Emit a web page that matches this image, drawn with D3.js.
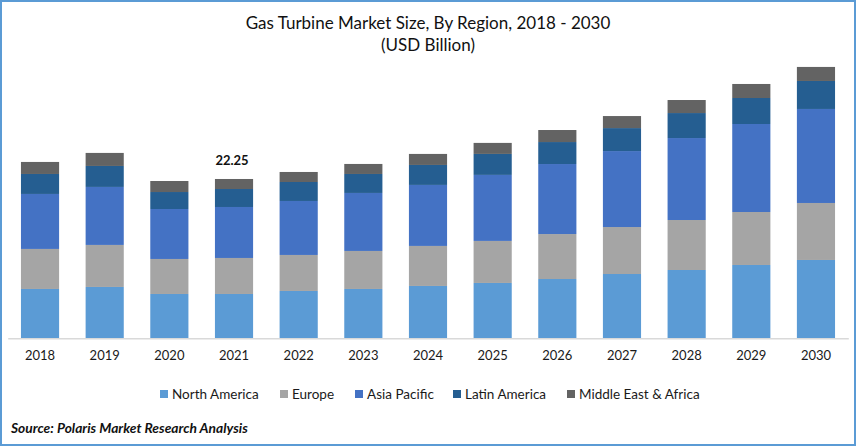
<!DOCTYPE html>
<html>
<head>
<meta charset="utf-8">
<script src="https://cdn.jsdelivr.net/npm/d3@7"></script>
<style>
html, body { margin: 0; padding: 0; background: #fff; }
svg { display: block; font-family: Lato, sans-serif; }
</style>
</head>
<body>
<div id="chart"></div>
<script>
// values, USD billion
var years = ["2018","2019","2020","2021","2022","2023","2024","2025","2026","2027","2028","2029","2030"];
var regions = ["North America","Europe","Asia Pacific","Latin America","Middle East & Africa"];
var regionColors = ["#5b9bd5","#a5a5a5","#4472c4","#255e91","#636363"];

var northAmerica = [6.89,7.17,6.19,6.19,6.61,6.89,7.31,7.73,8.28,8.98,9.54,10.24,10.94];
var europe = [5.59,5.87,4.89,5.03,5.03,5.31,5.59,5.87,6.28,6.56,6.98,7.40,7.96];
var asiaPacific = [7.68,8.10,6.98,7.12,7.54,8.10,8.52,9.22,9.78,10.61,11.45,12.29,13.13];
var latinAmerica = [2.79,2.93,2.37,2.51,2.65,2.65,2.79,2.93,3.07,3.21,3.49,3.63,3.91];
var middleEast = [1.68,1.82,1.54,1.40,1.40,1.40,1.54,1.54,1.68,1.68,1.82,1.96,1.96];

var labelYear = "2021";
var labelText = "22.25";

var width = 856, height = 446;
var rows = years.map(function(y, i) {
  return {
    year: y,
    "North America": northAmerica[i],
    "Europe": europe[i],
    "Asia Pacific": asiaPacific[i],
    "Latin America": latinAmerica[i],
    "Middle East & Africa": middleEast[i]
  };
});

var svg = d3.select("#chart").append("svg")
    .attr("width", width)
    .attr("height", height);

// frame
svg.append("rect")
    .attr("x", 1).attr("y", 1)
    .attr("width", width - 2).attr("height", height - 2)
    .attr("fill", "#fff")
    .attr("stroke", "#5b9bd5")
    .attr("stroke-width", 2);

var x = d3.scaleBand().domain(years).range([7.7, 848.3]).paddingInner(0.41).paddingOuter(0.205);
var y = d3.scaleLinear().domain([0, 38]).range([338.3, 338.3 - 38 * 7.16]);

var stacked = d3.stack().keys(regions)(rows);

svg.append("g").selectAll("g")
  .data(stacked)
  .enter().append("g")
    .attr("fill", function(d, i) { return regionColors[i]; })
  .selectAll("rect")
  .data(function(d) { return d; })
  .enter().append("rect")
    .attr("x", function(d) { return x(d.data.year); })
    .attr("y", function(d) { return y(d[1]); })
    .attr("width", x.bandwidth())
    .attr("height", function(d) { return y(d[0]) - y(d[1]); });

// x axis
var axis = svg.append("g")
    .attr("transform", "translate(0," + y(0) + ")")
    .call(d3.axisBottom(x).tickSize(0).tickPadding(12));
axis.select(".domain").attr("stroke", "#d9d9d9").attr("stroke-width", 1.5);
axis.selectAll("text")
    .attr("font-family", "Lato, sans-serif")
    .attr("font-size", 13)
    .attr("fill", "#1a1a1a");

// label on one bar
var labelTop = d3.sum(regions, function(r) { return rows[years.indexOf(labelYear)][r]; });
svg.append("text")
    .attr("x", x(labelYear) + x.bandwidth() / 2 - 2)
    .attr("y", y(labelTop) - 14)
    .attr("text-anchor", "middle")
    .attr("font-size", 13)
    .attr("font-weight", 700)
    .attr("fill", "#111")
    .text(labelText);

// titles
svg.append("text")
    .attr("x", 428).attr("y", 29)
    .attr("text-anchor", "middle")
    .attr("font-size", 17)
    .attr("fill", "#111")
    .text("Gas Turbine Market Size, By Region, 2018 - 2030");
svg.append("text")
    .attr("x", 428).attr("y", 51)
    .attr("text-anchor", "middle")
    .attr("font-size", 17)
    .attr("fill", "#111")
    .text("(USD Billion)");

// legend
var legendX = [160, 280, 355, 453, 567];
var legend = svg.append("g").selectAll("g")
  .data(regions)
  .enter().append("g")
    .attr("transform", function(d, i) { return "translate(" + legendX[i] + ",390)"; });
legend.append("rect")
    .attr("width", 8).attr("height", 8)
    .attr("fill", function(d, i) { return regionColors[i]; });
legend.append("text")
    .attr("x", 12).attr("y", 8.5)
    .attr("font-size", 13.5)
    .attr("fill", "#1a1a1a")
    .text(function(d) { return d; });

// source
svg.append("text")
    .attr("x", 11).attr("y", 433)
    .attr("font-size", 13.8)
    .attr("font-weight", 700)
    .attr("font-style", "italic")
    .attr("fill", "#111")
    .text("Source: Polaris  Market Research Analysis");
</script>
</body>
</html>
